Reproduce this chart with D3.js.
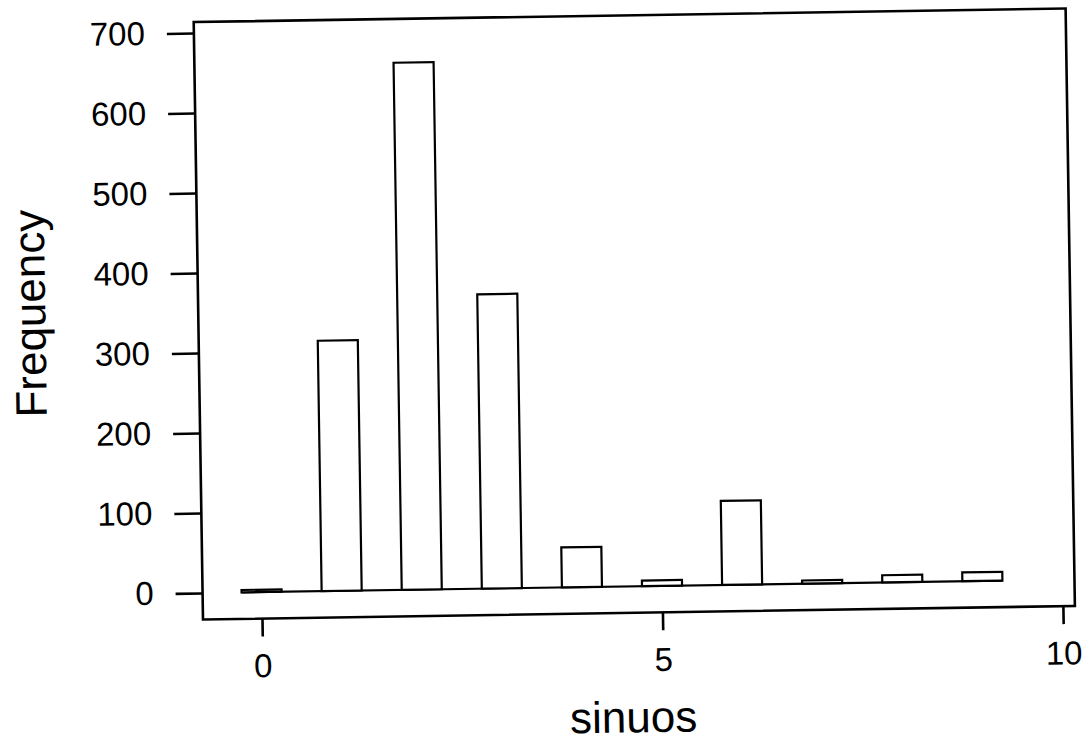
<!DOCTYPE html>
<html>
<head>
<meta charset="utf-8">
<script src="https://cdn.jsdelivr.net/npm/d3@7"></script>
<style>
  html, body { margin: 0; padding: 0; background: #fff; }
  svg { display: block; }
  text { font-family: "Liberation Sans", Arial, Helvetica, sans-serif; fill: #000; }
</style>
</head>
<body>
<svg id="chart" width="1089" height="749"></svg>
<script>
// Histogram of sinuos: counts per integer value
const categories = [0, 1, 2, 3, 4, 5, 6, 7, 8, 9];
const counts = [3, 313, 659, 368, 50, 7, 105, 4, 9, 11];
const yTicks = [0, 100, 200, 300, 400, 500, 600, 700];
const xTicks = [0, 5, 10];
const binHalfWidth = 0.25;

const svg = d3.select("#chart");
// the whole page is tilted slightly, as on the printed sheet
const g = svg.append("g").attr("transform", "rotate(-0.89, 203, 620)");

const x = d3.scaleLinear().domain([0, 10]).range([262, 1063]);
const y = d3.scaleLinear().domain([0, 700]).range([593, 33]);

const box = { left: 203, top: 22, right: 1075, bottom: 619.5 };

// plot frame
g.append("rect")
  .attr("x", box.left).attr("y", box.top)
  .attr("width", box.right - box.left).attr("height", box.bottom - box.top)
  .attr("fill", "none").attr("stroke", "#000").attr("stroke-width", 2.6);

// baseline running under all bins
g.append("line")
  .attr("x1", x(categories[0] - binHalfWidth))
  .attr("x2", x(categories[categories.length - 1] + binHalfWidth))
  .attr("y1", y(0)).attr("y2", y(0))
  .attr("stroke", "#000").attr("stroke-width", 2.2);

// bars
g.append("g").selectAll("rect")
  .data(categories.map((c, i) => ({ c, v: counts[i] })))
  .join("rect")
  .attr("x", d => x(d.c - binHalfWidth))
  .attr("width", d => x(d.c + binHalfWidth) - x(d.c - binHalfWidth))
  .attr("y", d => y(d.v))
  .attr("height", d => y(0) - y(d.v))
  .attr("fill", "#fff").attr("stroke", "#000").attr("stroke-width", 2.2);

// y axis
const yAxis = g.append("g")
  .attr("transform", `translate(${box.left},0)`)
  .call(d3.axisLeft(y).tickValues(yTicks).tickSize(27).tickPadding(22));
yAxis.select(".domain").remove();
yAxis.selectAll(".tick line").attr("stroke", "#000").attr("stroke-width", 2.6);
yAxis.selectAll(".tick text").style("font-size", "33px").style("font-family", "Liberation Sans, Arial, sans-serif");

// x axis
const xAxis = g.append("g")
  .attr("transform", `translate(0,${box.bottom})`)
  .call(d3.axisBottom(x).tickValues(xTicks).tickSize(18).tickPadding(17));
xAxis.select(".domain").remove();
xAxis.selectAll(".tick line").attr("stroke", "#000").attr("stroke-width", 2.6);
xAxis.selectAll(".tick text").style("font-size", "33px").style("font-family", "Liberation Sans, Arial, sans-serif");

// axis titles
g.append("text")
  .attr("transform", "translate(50,311) rotate(-90)")
  .attr("text-anchor", "middle")
  .style("font-size", "44px")
  .text("Frequency");

g.append("text")
  .attr("x", 632).attr("y", 739)
  .attr("text-anchor", "middle")
  .style("font-size", "44px")
  .text("sinuos");
</script>
</body>
</html>
